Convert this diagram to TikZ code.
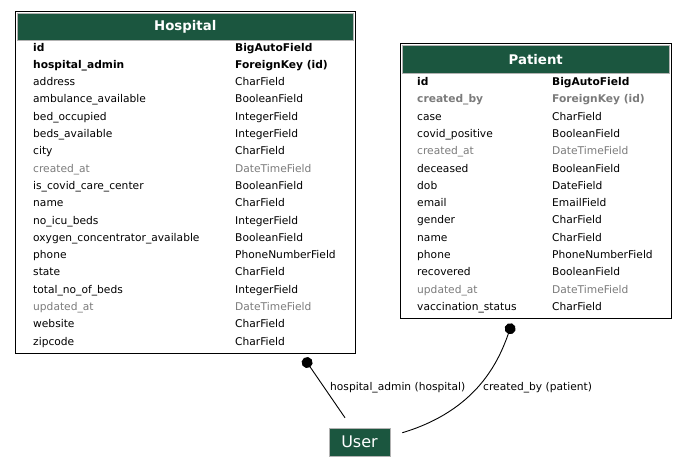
\documentclass[tikz,border=0pt]{standalone}
\usepackage{fontspec}
\setmainfont{DejaVu Sans}
\usetikzlibrary{arrows.meta}
\definecolor{djgreen}{HTML}{1B563F}
\definecolor{djgray}{HTML}{7B7B7B}

\begin{document}
\begin{tikzpicture}[x=1pt,y=-1pt,
    tblframe/.style={draw=black,line width=1.2pt,inner sep=0pt,anchor=north west},
    tblhead/.style={fill=djgreen,draw=black!30,line width=0.5pt,inner sep=0pt,anchor=north west,
      text=white,font=\fontsize{13.3}{16}\selectfont\bfseries},
    fld/.style={inner sep=0pt,anchor=mid west,font=\fontsize{10.67}{12}\selectfont},
    keyfld/.style={fld,font=\fontsize{10.67}{12}\selectfont\bfseries},
    dimfld/.style={fld,text=djgray},
    dimkeyfld/.style={keyfld,text=djgray},
    fk/.style={line width=0.9pt,-{Circle[length=11pt]}},
    fklabel/.style={inner sep=0pt,anchor=mid west,font=\fontsize{10.67}{12}\selectfont},
  ]
  \useasboundingbox (0,0) rectangle (688,472);

  % Hospital
  \node[tblframe,minimum width=340pt,minimum height=342pt] (hospital) at (15,11) {};
  \node[tblhead,minimum width=336pt,minimum height=26.5pt] (hospitalhead) at (17,13) {Hospital};
  \foreach \s/\n/\t [count=\i] in {
      keyfld/id/BigAutoField,
      keyfld/hospital\_admin/ForeignKey (id),
      fld/address/CharField,
      fld/ambulance\_available/BooleanField,
      fld/bed\_occupied/IntegerField,
      fld/beds\_available/IntegerField,
      fld/city/CharField,
      dimfld/created\_at/DateTimeField,
      fld/is\_covid\_care\_center/BooleanField,
      fld/name/CharField,
      fld/no\_icu\_beds/IntegerField,
      fld/oxygen\_concentrator\_available/BooleanField,
      fld/phone/PhoneNumberField,
      fld/state/CharField,
      fld/total\_no\_of\_beds/IntegerField,
      dimfld/updated\_at/DateTimeField,
      fld/website/CharField,
      fld/zipcode/CharField} {
    \node[\s] (hn\i) at (33,{48.3+17.3*(\i-1)}) {\n};
    \node[\s] (ht\i) at (235,{48.3+17.3*(\i-1)}) {\t};
  }

  % Patient
  \node[tblframe,minimum width=271pt,minimum height=275pt] (patient) at (400,43) {};
  \node[tblhead,minimum width=267pt,minimum height=28pt] (patienthead) at (402,45) {Patient};
  \foreach \s/\n/\t [count=\i] in {
      keyfld/id/BigAutoField,
      dimkeyfld/created\_by/ForeignKey (id),
      fld/case/CharField,
      fld/covid\_positive/BooleanField,
      dimfld/created\_at/DateTimeField,
      fld/deceased/BooleanField,
      fld/dob/DateField,
      fld/email/EmailField,
      fld/gender/CharField,
      fld/name/CharField,
      fld/phone/PhoneNumberField,
      fld/recovered/BooleanField,
      dimfld/updated\_at/DateTimeField,
      fld/vaccination\_status/CharField} {
    \node[\s] (pn\i) at (417,{82.8+17.3*(\i-1)}) {\n};
    \node[\s] (pt\i) at (552,{82.8+17.3*(\i-1)}) {\t};
  }

  % User
  \node[fill=djgreen,draw=black!30,line width=0.5pt,text=white,inner sep=0pt,
    minimum width=61pt,minimum height=28pt,font=\fontsize{16}{18}\selectfont] (user) at (359.5,442) {User};

  % foreign keys
  \coordinate (hadmin) at (304,358);
  \coordinate (pcreated) at (512,323.5);
  \draw[fk] ([xshift=-14.5pt,yshift=10pt]user.north) -- (hadmin);
  \draw[fk] ([xshift=12pt,yshift=-5pt]user.north east) .. controls (478,410) and (499,360) .. (pcreated);
  \node[fklabel] (hadminlabel) at (330,388) {hospital\_admin (hospital)};
  \node[fklabel] (pcreatedlabel) at (483,388) {created\_by (patient)};
\end{tikzpicture}
\end{document}
